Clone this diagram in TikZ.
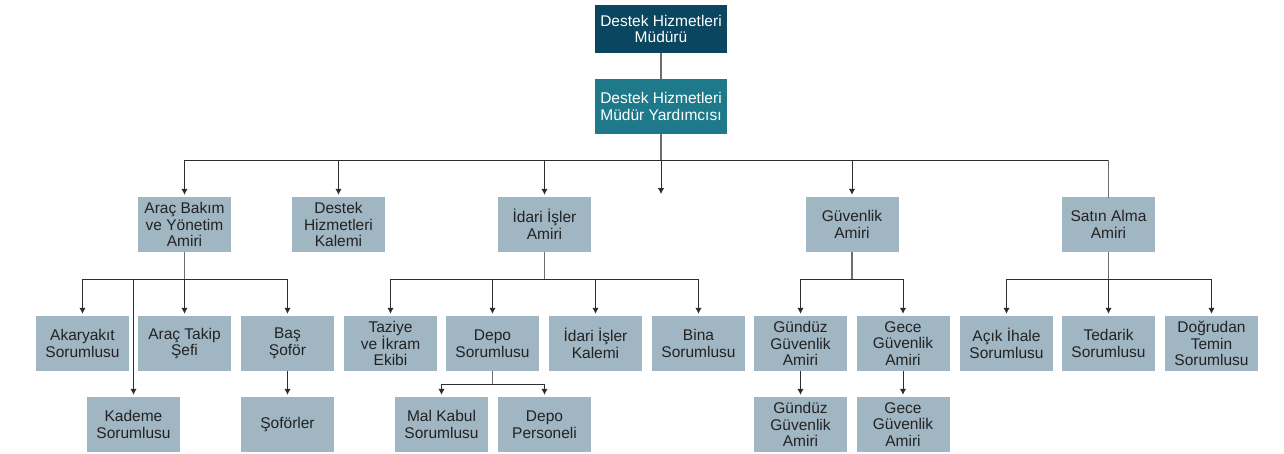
\documentclass[tikz,border=0pt]{standalone}
\usepackage{fontspec}
\setmainfont{Liberation Sans}
\usetikzlibrary{arrows.meta}
\definecolor{boxc}{RGB}{160,182,194}
\definecolor{topc}{RGB}{10,70,96}
\definecolor{secc}{RGB}{30,122,138}
\definecolor{txtc}{RGB}{34,34,34}
\definecolor{linec}{RGB}{45,45,45}
\definecolor{stubc}{RGB}{110,110,110}
\begin{document}
\begin{tikzpicture}[x=1pt,y=-1pt,
  box/.style={fill=boxc, minimum width=93pt, minimum height=55pt, inner sep=0pt, align=center, text=txtc, font=\fontsize{15.5}{16.7}\selectfont},
  conn/.style={draw=linec, line width=1pt},
  stub/.style={draw=stubc, line width=1.3pt},
  arr/.style={conn, -{Latex[length=6pt,width=6.5pt]}, shorten >=2pt}
]
\useasboundingbox (0,0) rectangle (1284,453);

% top
\node[box, fill=topc, text=white, minimum width=132pt, minimum height=48pt] (top) at (661,29) {Destek Hizmetleri\\Müdürü};
\node[box, fill=secc, text=white, minimum width=132pt] (sec) at (661,106.5) {Destek Hizmetleri\\Müdür Yardımcısı};

% row 1
\node[box] (arb) at (184.5,224.5) {Araç Bakım\\ve Yönetim\\Amiri};
\node[box] (dhk) at (338.5,224.5) {Destek\\Hizmetleri\\Kalemi};
\node[box] (iia) at (544.5,224.5) {İdari İşler\\Amiri};
\node[box] (gv) at (852,224.5) {Güvenlik\\Amiri};
\node[box] (sa) at (1108.5,224.5) {Satın Alma\\Amiri};

% row 2
\node[box] (aky) at (82.5,343.5) {Akaryakıt\\Sorumlusu};
\node[box] (at) at (184.5,343.5) {Araç Takip\\Şefi};
\node[box] (bs) at (287.5,343.5) {Baş\\Şoför};
\node[box] (taz) at (390.5,343.5) {Taziye\\ve İkram\\Ekibi};
\node[box] (depo) at (492.5,343.5) {Depo\\Sorumlusu};
\node[box] (iik) at (595.5,343.5) {İdari İşler\\Kalemi};
\node[box] (bina) at (698.5,343.5) {Bina\\Sorumlusu};
\node[box] (gg) at (800.5,343.5) {Gündüz\\Güvenlik\\Amiri};
\node[box] (gc) at (903,343.5) {Gece\\Güvenlik\\Amiri};
\node[box] (ai) at (1006.5,343.5) {Açık İhale\\Sorumlusu};
\node[box] (ted) at (1108.5,343.5) {Tedarik\\Sorumlusu};
\node[box] (dog) at (1211.5,343.5) {Doğrudan\\Temin\\Sorumlusu};

% row 3
\node[box] (kad) at (133.5,424.5) {Kademe\\Sorumlusu};
\node[box] (sof) at (287.5,424.5) {Şoförler};
\node[box] (mk) at (441.5,424.5) {Mal Kabul\\Sorumlusu};
\node[box] (dp) at (544.5,424.5) {Depo\\Personeli};
\node[box] (gg2) at (800.5,424.5) {Gündüz\\Güvenlik\\Amiri};
\node[box] (gc2) at (903,424.5) {Gece\\Güvenlik\\Amiri};

% connectors top
\draw[stub] (top) -- (sec);
\coordinate (b1) at (661,160);
\coordinate (emp) at (661,194);
\draw[stub] (sec.south) -- (b1);
\draw[conn] (arb.north |- b1) -- (sa.north |- b1);
\foreach \n in {arb,dhk,iia,gv} \draw[arr] (\n.north |- b1) -- (\n.north);
\draw[arr, shorten >=0pt] (b1) -- (emp);
\draw[stub] (sa.north |- b1) -- ([yshift=-1pt]sa.north);

% bus level 2
\coordinate (b2) at (0,279);
\draw[stub] (arb.south) -- (arb.south |- b2);
\draw[conn] (aky.north |- b2) -- (bs.north |- b2);
\foreach \n in {aky,at,bs,kad} \draw[arr] (\n.north |- b2) -- (\n.north);

\draw[stub] (iia.south) -- (iia.south |- b2);
\draw[conn] (taz.north |- b2) -- (bina.north |- b2);
\foreach \n in {taz,depo,iik,bina} \draw[arr] (\n.north |- b2) -- (\n.north);

\draw[stub] (gv.south) -- (gv.south |- b2);
\draw[conn] (gg.north |- b2) -- (gc.north |- b2);
\foreach \n in {gg,gc} \draw[arr] (\n.north |- b2) -- (\n.north);

\draw[stub] (sa.south) -- (sa.south |- b2);
\draw[conn] (ai.north |- b2) -- (dog.north |- b2);
\foreach \n in {ai,ted,dog} \draw[arr] (\n.north |- b2) -- (\n.north);

% level 3
\draw[arr] (bs) -- (sof);
\draw[arr] (gg) -- (gg2);
\draw[arr] (gc) -- (gc2);
\coordinate (b3) at (0,384);
\draw[stub] (depo.south) -- (depo.south |- b3);
\draw[conn] (mk.north |- b3) -- (dp.north |- b3);
\foreach \n in {mk,dp} \draw[arr] (\n.north |- b3) -- (\n.north);
\end{tikzpicture}
\end{document}
